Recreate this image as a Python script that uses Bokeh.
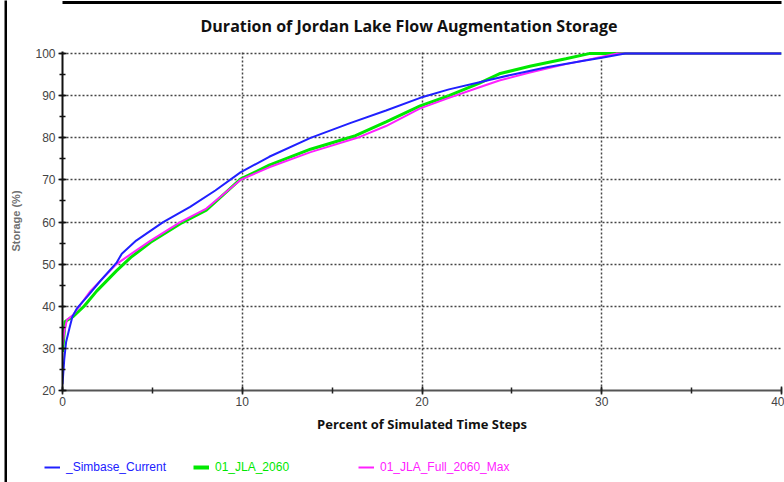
from bokeh.plotting import figure
from bokeh.models import (Range1d, SingleIntervalTicker, Legend, LegendItem, LinearAxis,
                          FixedTicker, Title)
from bokeh.layouts import column, row
from bokeh.embed import file_html
from bokeh.resources import INLINE

# Data (percent of time steps vs storage %)
simbase_x = [0, 0.1, 0.2, 0.4, 0.55, 0.8, 1.4, 2.1, 3.0, 3.3, 4.1, 5.6, 7.1, 8.5, 9.9,
             11.5, 13.8, 16.0, 18.0, 19.9, 21.5, 23.2, 25.0, 27.0, 29.0, 30.0, 31.3, 40]
simbase_y = [21.5, 27.5, 31.5, 35.0, 37.5, 39.5, 42.4, 46.0, 50.3, 52.5, 55.6, 60.0, 63.6, 67.5, 71.8,
             75.5, 80.0, 83.5, 86.5, 89.5, 91.5, 93.2, 95.0, 96.8, 98.3, 99.0, 100.0, 100.0]

jla_x = [0, 0.15, 0.6, 1.2, 1.9, 3.0, 3.8, 4.9, 6.55, 8.0, 9.9, 11.5, 13.8, 16.3, 18.0,
         19.9, 21.5, 23.2, 24.3, 26.0, 28.0, 29.3, 40]
jla_y = [29.2, 36.4, 37.6, 40.0, 43.6, 48.4, 51.6, 55.2, 59.6, 62.8, 70.2, 73.5, 77.3, 80.5, 83.8,
         87.6, 90.0, 93.0, 95.2, 97.0, 98.8, 100.0, 100.0]

full_x = [0, 0.1, 0.25, 0.6, 1.0, 1.55, 2.1, 3.0, 3.8, 4.9, 6.55, 8.0, 9.9, 11.5, 13.8,
          16.4, 18.0, 19.9, 21.5, 23.2, 24.3, 26.0, 28.0, 29.5, 30.8, 40]
full_y = [30.8, 34.0, 36.8, 38.0, 40.4, 43.6, 46.0, 50.0, 52.4, 55.6, 60.0, 63.2, 70.0, 73.0, 76.6,
          80.0, 82.8, 87.0, 89.5, 92.0, 93.6, 95.5, 97.5, 98.8, 100.0, 100.0]

series_names = ["_Simbase_Current", "01_JLA_2060", "01_JLA_Full_2060_Max"]
title_text = "Duration of Jordan Lake Flow Augmentation Storage"
x_label = "Percent of Simulated Time Steps"
y_label = "Storage (%)"

BLUE = "#2020ff"
GREEN = "#00e800"
MAGENTA = "#ff20ff"
TICKFONT = "Liberation Sans"

TOTAL_W = 784
SIDE_W = 7
MAIN_W = TOTAL_W - SIDE_W
MAIN_H = 440
LEG_H = 42


def blank_fig(w, h, **borders):
    f = figure(width=w, height=h, output_backend="svg", toolbar_location=None,
               x_axis_type=None, y_axis_type=None,
               x_range=Range1d(0, 1), y_range=Range1d(0, 1),
               min_border=0,
               min_border_left=borders.get("left", 0), min_border_right=borders.get("right", 0),
               min_border_top=borders.get("top", 0), min_border_bottom=borders.get("bottom", 0))
    f.grid.visible = False
    f.outline_line_color = None
    f.border_fill_color = "white"
    return f


left_bar = blank_fig(SIDE_W, MAIN_H + LEG_H, left=4)
left_bar.background_fill_color = "black"

p = figure(width=MAIN_W, height=MAIN_H, output_backend="svg", toolbar_location=None,
           title=None,
           x_range=Range1d(0, 40), y_range=Range1d(20, 100.5),
           min_border_left=55, min_border_right=3, min_border_top=51, min_border_bottom=50)

p.outline_line_color = None
p.background_fill_color = "white"
p.border_fill_color = "white"

xax = p.below[0]
yax = p.left[0]
xt = SingleIntervalTicker(interval=10, num_minor_ticks=2)
yt = SingleIntervalTicker(interval=10, num_minor_ticks=2)
xax.ticker = xt
yax.ticker = yt
p.xgrid[0].ticker = xt
p.ygrid[0].ticker = yt

# above the frame: the title, then a thick black rule along the top edge
title = Title(text=title_text, align="left", offset=138, standoff=25, vertical_align="top",
              text_font="Open Sans", text_font_size="16px", text_font_style="bold",
              text_color="#111111")
p.add_layout(title, "above")
top_rule = LinearAxis(ticker=FixedTicker(ticks=[]), axis_line_color="black", axis_line_width=3,
                      major_tick_in=0, major_tick_out=0, minor_tick_in=0, minor_tick_out=0,
                      major_label_standoff=0)
p.add_layout(top_rule, "above")

for ax in (xax, yax):
    ax.major_tick_in = 4
    ax.major_tick_out = 4
    ax.minor_tick_in = 3
    ax.minor_tick_out = 3
    ax.major_label_text_font = TICKFONT
    ax.major_label_text_font_size = "12px"
    ax.major_label_text_color = "#444444"
    ax.axis_line_width = 2
    ax.major_tick_line_width = 1.5
    ax.minor_tick_line_width = 1.5

xax.axis_line_color = "#555555"
xax.major_tick_line_color = "#222222"
xax.minor_tick_line_color = "#222222"
yax.axis_line_color = "#111111"
yax.major_tick_line_color = "#111111"
yax.minor_tick_line_color = "#111111"
xax.major_label_standoff = 2
yax.major_label_standoff = 3

xax.axis_label = x_label
xax.axis_label_text_font = "Open Sans"
xax.axis_label_text_font_size = "13px"
xax.axis_label_text_font_style = "bold"
xax.axis_label_text_color = "#111111"
xax.axis_label_standoff = 6

yax.axis_label = y_label
yax.axis_label_text_font = "Liberation Sans"
yax.axis_label_text_font_size = "11px"
yax.axis_label_text_font_style = "bold"
yax.axis_label_text_color = "#707070"
yax.axis_label_standoff = 10

for g in (p.xgrid[0], p.ygrid[0]):
    g.grid_line_color = "#444444"
    g.grid_line_dash = "2 2"
    g.grid_line_width = 1.5

p.line(jla_x, jla_y, line_color=GREEN, line_width=3)
p.line(full_x, full_y, line_color=MAGENTA, line_width=2)
p.line(simbase_x, simbase_y, line_color=BLUE, line_width=2)

# Legend strip below the chart (its proxy lines lie outside the strip's 0..1 ranges)
lg_fig = blank_fig(MAIN_W, LEG_H)
lg_fig.background_fill_color = "white"

legend_specs = [
    (series_names[0], simbase_x, simbase_y, BLUE, 2, 37),
    (series_names[1], jla_x, jla_y, GREEN, 4, 186),
    (series_names[2], full_x, full_y, MAGENTA, 2, 351),
]
for name, xs, ys, col, lw, xoff in legend_specs:
    proxy = lg_fig.line(xs, ys, line_color=col, line_width=lw)
    lg = Legend(items=[LegendItem(label=name, renderers=[proxy])],
                location=(xoff, 8), orientation="horizontal",
                border_line_color=None, background_fill_alpha=0,
                padding=0, margin=0, glyph_width=16, glyph_height=12,
                label_standoff=6, label_height=12,
                label_text_font=TICKFONT, label_text_font_size="12px",
                label_text_color=col)
    lg_fig.add_layout(lg, "center")

layout = row(left_bar, column(p, row(lg_fig)))

open("out.html", "w").write(file_html(layout, INLINE))
